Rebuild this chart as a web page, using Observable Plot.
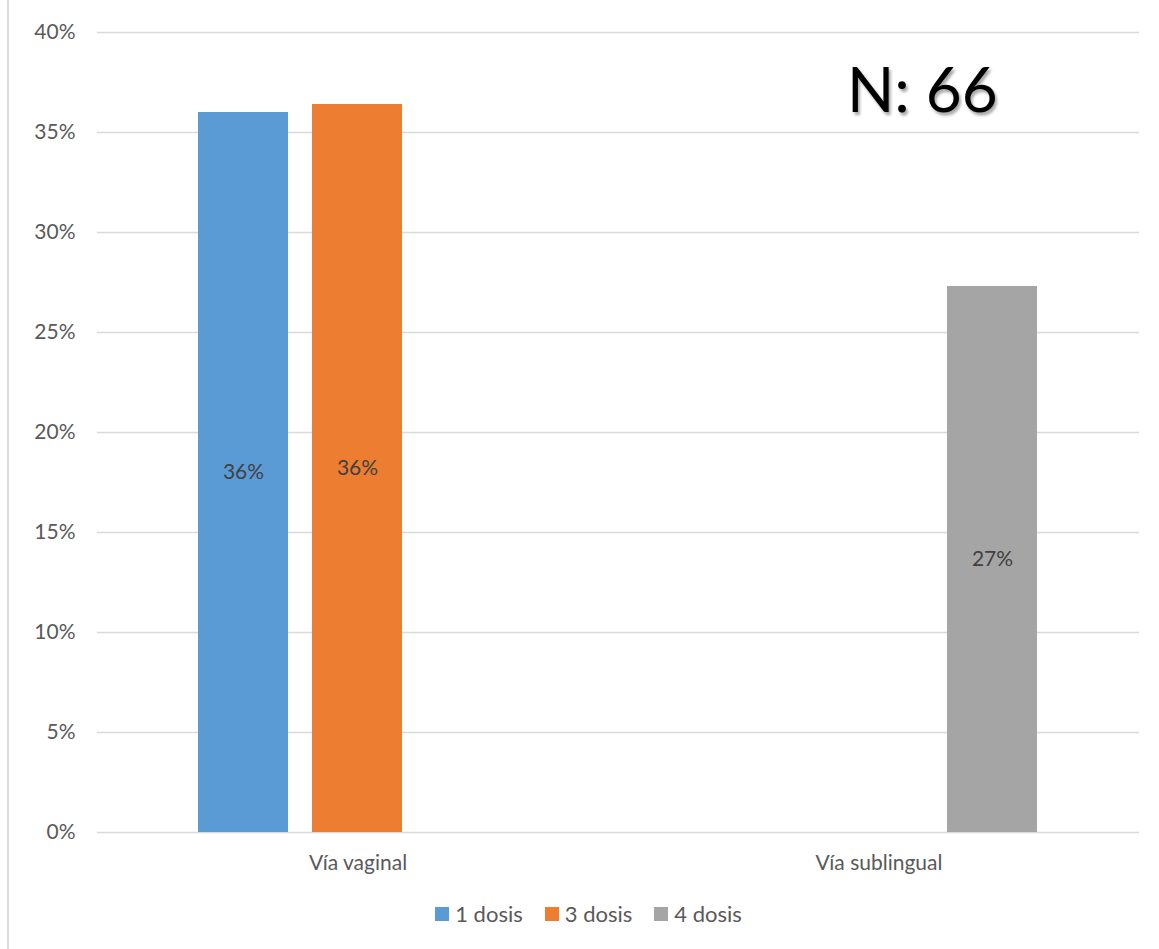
<!DOCTYPE html>
<html>
<head>
<meta charset="utf-8">
<script src="https://cdn.jsdelivr.net/npm/d3@7"></script>
<script src="https://cdn.jsdelivr.net/npm/@observablehq/plot@0.6"></script>
<style>
  html, body { margin: 0; padding: 0; background: #fff; }
  #wrap { position: relative; width: 1159px; height: 949px; overflow: hidden; font-family: Lato, "Open Sans", sans-serif; background: #fff; }
  #chart { position: absolute; left: 0; top: 0; }
  #edge { position: absolute; left: 7px; top: 0; width: 2px; height: 949px; background: #d9d9d9; z-index: 2; }
  #note { position: absolute; left: 847px; top: 57px; font-size: 62px; color: #000; line-height: 1;
          text-shadow: 2px 3px 3px rgba(0,0,0,0.35); white-space: nowrap; z-index: 2; }
  #legend { position: absolute; top: 900px; left: 0; width: 1159px; display: flex; justify-content: center;
            gap: 22px; font-size: 22px; color: #595959; padding-left: 18px; box-sizing: border-box; z-index: 2; }
  #legend .item { display: flex; align-items: center; gap: 6px; }
  #legend .sw { width: 14px; height: 14px; display: inline-block; }
</style>
</head>
<body>
<div id="wrap">
  <div id="chart"></div>
  <div id="edge"></div>
  <div id="note">N: 66</div>
  <div id="legend"></div>
</div>
<script>
// Administration route (groups) and number of doses (bars within each group)
const categories = ["Vía vaginal", "Vía sublingual"];
const series = ["1 dosis", "3 dosis", "4 dosis"];
const colors = ["#5B9BD5", "#ED7D31", "#A5A5A5"];
// Share of patients per route and dose count
const vaginal = [0.36, 0.364, 0];
const sublingual = [0, 0, 0.273];
const yTicks = [0, 0.05, 0.10, 0.15, 0.20, 0.25, 0.30, 0.35, 0.40];

const table = [vaginal, sublingual].flatMap((vals, i) =>
  vals.map((v, j) => ({route: categories[i], dose: series[j], value: v}))
).filter(d => d.value > 0);

const chart = Plot.plot({
  width: 1159,
  height: 890,
  marginTop: 32,
  marginBottom: 58,
  marginLeft: 97,
  marginRight: 20,
  style: {fontFamily: "Lato, 'Open Sans', sans-serif", fontSize: "21px", color: "#595959", background: "white"},
  fx: {domain: categories, padding: 0, label: null, tickSize: 0, tickPadding: 23},
  x: {domain: series, axis: null, paddingInner: 0.209, paddingOuter: 0.87},
  y: {domain: [0, 0.4], ticks: yTicks, tickFormat: d3.format(".0%"), label: null, tickSize: 0, tickPadding: 22},
  color: {domain: series, range: colors},
  marks: [
    Plot.gridY(yTicks, {stroke: "#d9d9d9", strokeOpacity: 1, strokeWidth: 1.5}),
    Plot.barY(table, {fx: "route", x: "dose", y: "value", fill: "dose"}),
    Plot.text(table, {
      fx: "route", x: "dose", y: d => d.value / 2,
      text: d => d3.format(".0%")(d.value),
      fill: "#404040", fontSize: 21
    })
  ]
});
document.getElementById("chart").appendChild(chart);

const legend = document.getElementById("legend");
series.forEach((s, i) => {
  const item = document.createElement("div");
  item.className = "item";
  item.innerHTML = `<span class="sw" style="background:${colors[i]}"></span><span>${s}</span>`;
  legend.appendChild(item);
});
</script>
</body>
</html>
